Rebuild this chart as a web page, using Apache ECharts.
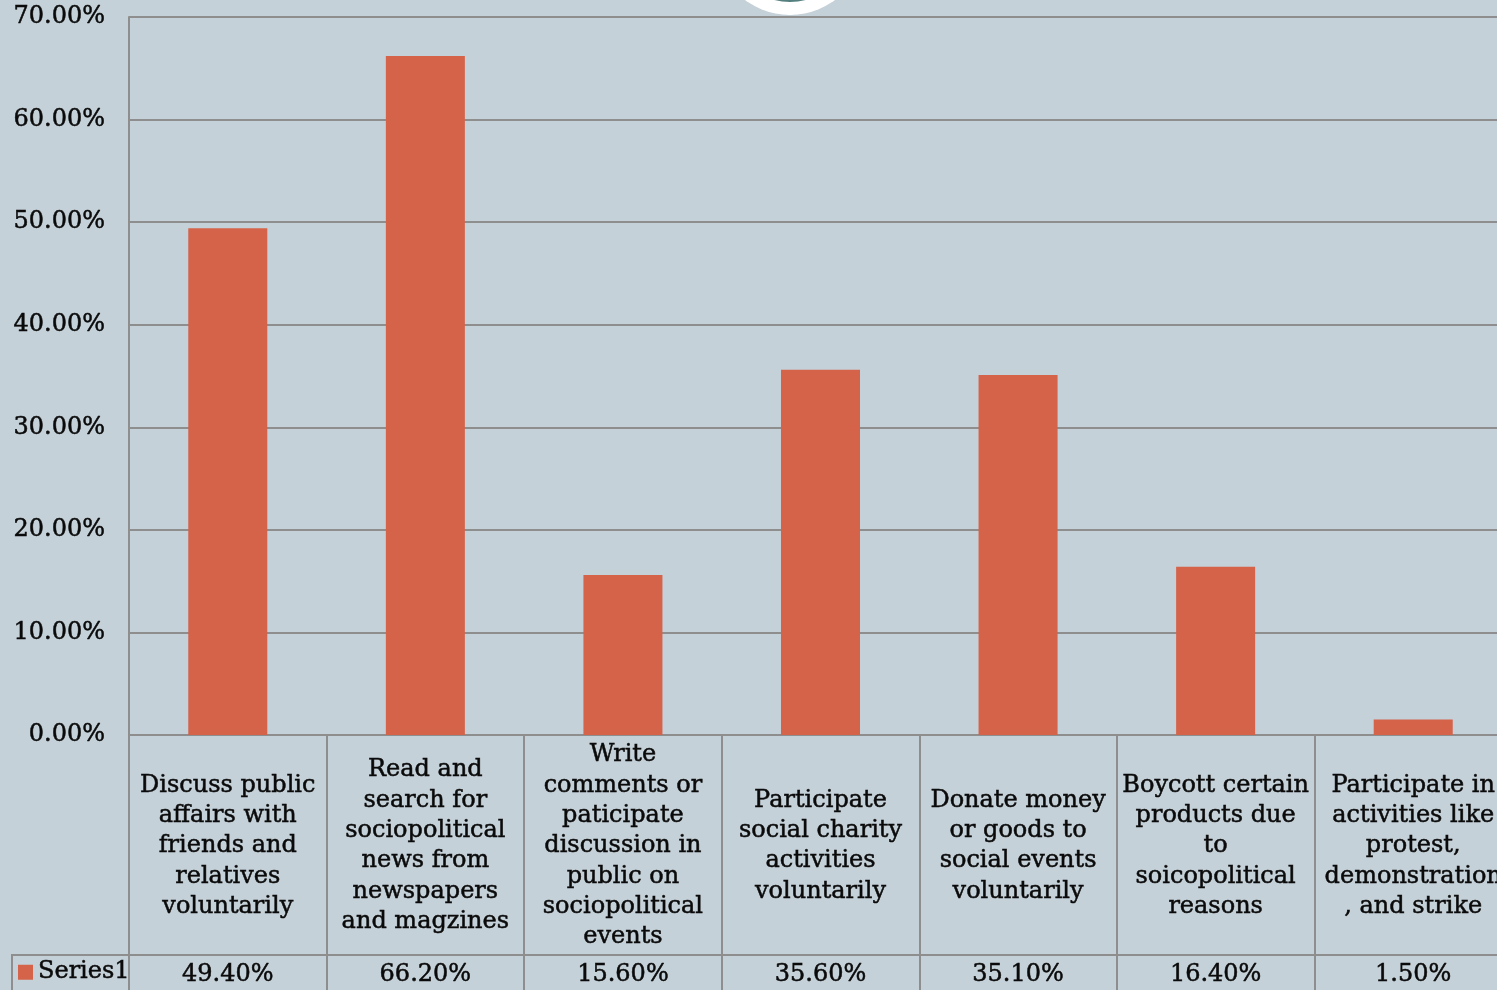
<!DOCTYPE html>
<html>
<head>
<meta charset="utf-8">
<script src="https://cdn.jsdelivr.net/npm/echarts@6/dist/echarts.min.js"></script>
<style>
html,body{margin:0;padding:0;background:#c5d1d8;}
#chart{width:1497px;height:990px;}
</style>
</head>
<body>
<div id="chart"></div>
<script>
var categories = [
  "Discuss public\naffairs with\nfriends and\nrelatives\nvoluntarily",
  "Read and\nsearch for\nsociopolitical\nnews from\nnewspapers\nand magzines",
  "Write\ncomments or\npaticipate\ndiscussion in\npublic on\nsociopolitical\nevents",
  "Participate\nsocial charity\nactivities\nvoluntarily",
  "Donate money\nor goods to\nsocial events\nvoluntarily",
  "Boycott certain\nproducts due\nto\nsoicopolitical\nreasons",
  "Participate in\nactivities like\nprotest,\ndemonstration\n, and strike"
];
var seriesName = "Series1";
var values = [49.4, 66.2, 15.6, 35.6, 35.1, 16.4, 1.5];
var yTicks = [0, 10, 20, 30, 40, 50, 60, 70];

var FONT = "DejaVu Serif";
var GRID = "#8e8e8e";
var TXT = '#0a0a0a';
var thick = {textBorderColor: TXT, textBorderWidth: 0.5};
var chart = echarts.init(document.getElementById('chart'));
chart.setOption({
  backgroundColor: '#c5d1d8',
  animation: false,
  textStyle: {fontFamily: FONT},
  legend: {
    data: [seriesName], left: 18, top: 960, icon: 'rect', itemWidth: 15, itemHeight: 15, itemGap: 6,
    textStyle: Object.assign({fontFamily: FONT, fontSize: 24, color: TXT}, thick), padding: 0
  },
  grid: {left: 129, top: 17, right: -15, height: 718, containLabel: false, outerBoundsMode: 'none'},
  yAxis: {
    type: 'value', min: yTicks[0], max: yTicks[yTicks.length - 1], interval: 10,
    axisLine: {show: true, lineStyle: {color: GRID, width: 2}},
    axisTick: {show: false},
    splitLine: {show: true, lineStyle: {color: GRID, width: 2}},
    axisLabel: Object.assign({margin: 24, fontFamily: FONT, fontSize: 24, color: TXT,
      formatter: function (v) { return v.toFixed(2) + '%'; }}, thick)
  },
  xAxis: [{
    type: 'category', data: categories, position: 'bottom',
    axisLine: {show: true, lineStyle: {color: GRID, width: 2}},
    axisTick: {show: true, length: 255, lineStyle: {color: GRID, width: 2}},
    splitLine: {show: false},
    axisLabel: Object.assign({interval: 0, margin: 111, verticalAlign: 'middle', align: 'center',
      fontFamily: FONT, fontSize: 24, lineHeight: 30.3, color: TXT}, thick)
  }, {
    type: 'category', data: categories, position: 'bottom', offset: 220,
    axisLine: {show: true, lineStyle: {color: GRID, width: 2}},
    axisTick: {show: false},
    splitLine: {show: false},
    axisLabel: Object.assign({interval: 0, margin: 20, verticalAlign: 'middle', align: 'center',
      fontFamily: FONT, fontSize: 24, color: TXT,
      formatter: function (v, i) { return values[i].toFixed(2) + '%'; }}, thick)
  }],
  series: [{
    name: seriesName, type: 'bar', data: values, barWidth: '40%',
    itemStyle: {color: '#d4634a'}
  }],
  graphic: [
    {type: 'circle', shape: {cx: 790, cy: -60, r: 75}, style: {fill: '#ffffff'}, z: 100},
    {type: 'circle', shape: {cx: 790, cy: -60, r: 62}, style: {fill: '#55807f'}, z: 101},
    {type: 'line', shape: {x1: 12, y1: 955, x2: 130, y2: 955}, style: {stroke: GRID, lineWidth: 2}},
    {type: 'line', shape: {x1: 12, y1: 954, x2: 12, y2: 990}, style: {stroke: GRID, lineWidth: 2}}
  ]
});
</script>
</body>
</html>
